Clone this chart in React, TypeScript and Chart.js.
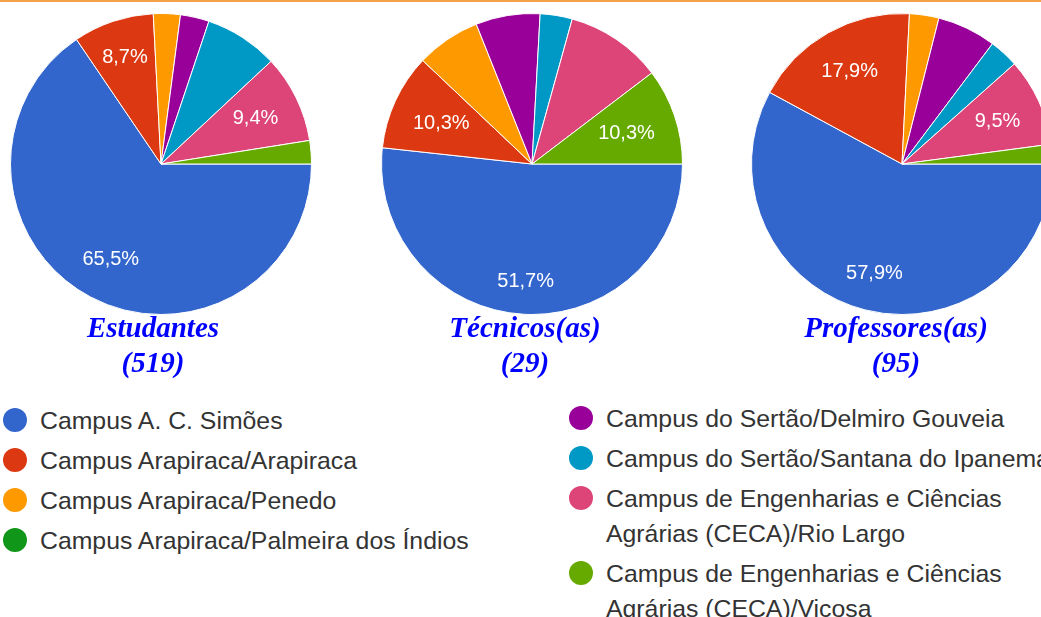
import React, { useEffect, useRef } from "react";
import { Chart, registerables } from "chart.js";

Chart.register(...registerables);

const categories = [
  "Campus A. C. Simões",
  "Campus Arapiraca/Arapiraca",
  "Campus Arapiraca/Penedo",
  "Campus Arapiraca/Palmeira dos Índios",
  "Campus do Sertão/Delmiro Gouveia",
  "Campus do Sertão/Santana do Ipanema",
  "Campus de Engenharias e Ciências Agrárias (CECA)/Rio Largo",
  "Campus de Engenharias e Ciências Agrárias (CECA)/Viçosa",
];

const colors = ["#3366cc", "#dc3912", "#ff9900", "#109618", "#990099", "#0099c6", "#dd4477", "#66aa00"];

const estudantes = [340, 45, 15, 0, 16, 41, 49, 13];
const tecnicos = [15, 3, 2, 0, 2, 1, 3, 3];
const professores = [55, 17, 3, 0, 6, 3, 9, 2];

const titles = ["Estudantes", "Técnicos(as)", "Professores(as)"];
const totals = ["(519)", "(29)", "(95)"];

const labeledEstudantes = [0, 1, 6];
const labeledTecnicos = [0, 1, 7];
const labeledProfessores = [0, 1, 6];

const pieLabelPlugin = {
  id: "pieLabels",
  afterDatasetsDraw(chart: any, _args: any, opts: any) {
    const ctx = chart.ctx;
    const meta = chart.getDatasetMeta(0);
    const data: number[] = chart.data.datasets[0].data;
    const total = data.reduce((a, b) => a + b, 0);
    const shown: number[] = opts.shown || [];
    ctx.save();
    ctx.fillStyle = "#ffffff";
    ctx.font = '20px "Liberation Sans", Arial, sans-serif';
    ctx.textAlign = "center";
    ctx.textBaseline = "middle";
    meta.data.forEach((arc: any, i: number) => {
      if (!shown.includes(i)) return;
      const p = arc.getProps(["x", "y", "startAngle", "endAngle", "outerRadius"], true);
      const mid = (p.startAngle + p.endAngle) / 2;
      const txt = ((data[i] / total) * 100).toFixed(1).replace(".", ",") + "%";
      const hw = ctx.measureText(txt).width / 2;
      const hh = 7.5;
      const c = Math.abs(Math.cos(mid));
      const s = Math.abs(Math.sin(mid));
      const R = p.outerRadius * 0.857;
      const b = hw * c + hh * s;
      const d = -b + Math.sqrt(b * b - (hw * hw + hh * hh - R * R));
      ctx.fillText(txt, p.x + Math.cos(mid) * d, p.y + Math.sin(mid) * d + 1);
    });
    ctx.restore();
  },
};

function Pie({ values, shown, left }: { values: number[]; shown: number[]; left: number }) {
  const ref = useRef<HTMLCanvasElement>(null);
  useEffect(() => {
    if (!ref.current) return;
    const chart = new Chart(ref.current, {
      type: "pie",
      data: {
        labels: categories,
        datasets: [
          {
            data: values,
            backgroundColor: colors,
            borderColor: "#ffffff",
            borderWidth: 1,
          },
        ],
      },
      options: {
        responsive: false,
        animation: false,
        rotation: 90,
        layout: { padding: 0 },
        plugins: {
          legend: { display: false },
          tooltip: { enabled: false },
          pieLabels: { shown },
        } as any,
      },
      plugins: [pieLabelPlugin],
    });
    return () => chart.destroy();
  }, []);
  return (
    <canvas
      ref={ref}
      width={302}
      height={302}
      style={{ position: "absolute", left, top: 13, width: 302, height: 302 }}
    />
  );
}

const legendLeft = [0, 1, 2, 3];
const legendRight = [4, 5, 6, 7];

function LegendItem({ idx }: { idx: number }) {
  const text = categories[idx].replace(" Agrárias", "\nAgrárias");
  return (
    <div style={{ position: "relative", marginBottom: 5, whiteSpace: "pre", lineHeight: "35px" }}>
      <span
        style={{
          position: "absolute",
          left: -37,
          top: 5.5,
          width: 24,
          height: 24,
          borderRadius: "50%",
          background: colors[idx],
        }}
      />
      {text}
    </div>
  );
}

export default function App() {
  const titleCenters = [153, 525, 896];
  return (
    <div
      style={{
        position: "absolute",
        left: 0,
        top: 0,
        width: 1041,
        height: 617,
        overflow: "hidden",
        background: "#ffffff",
      }}
    >
      <div style={{ position: "absolute", left: 0, top: 0, width: 1041, height: 2, background: "#f7a04a" }} />
      <Pie values={estudantes} shown={labeledEstudantes} left={10} />
      <Pie values={tecnicos} shown={labeledTecnicos} left={381} />
      <Pie values={professores} shown={labeledProfessores} left={751} />
      {titles.map((t, i) => (
        <div
          key={t}
          style={{
            position: "absolute",
            left: titleCenters[i] - 150,
            width: 300,
            top: 310,
            textAlign: "center",
            font: 'italic bold 29px/35px "Liberation Serif", "Times New Roman", serif',
            color: "#0000ff",
          }}
        >
          {t}
          <br />
          {totals[i]}
        </div>
      ))}
      <div
        style={{
          position: "absolute",
          left: 40,
          top: 402.5,
          font: '24.8px "Liberation Sans", Arial, sans-serif',
          color: "#333333",
        }}
      >
        {legendLeft.map((i) => (
          <LegendItem key={i} idx={i} />
        ))}
      </div>
      <div
        style={{
          position: "absolute",
          left: 606,
          top: 400.5,
          font: '24.8px "Liberation Sans", Arial, sans-serif',
          color: "#333333",
        }}
      >
        {legendRight.map((i) => (
          <LegendItem key={i} idx={i} />
        ))}
      </div>
    </div>
  );
}
